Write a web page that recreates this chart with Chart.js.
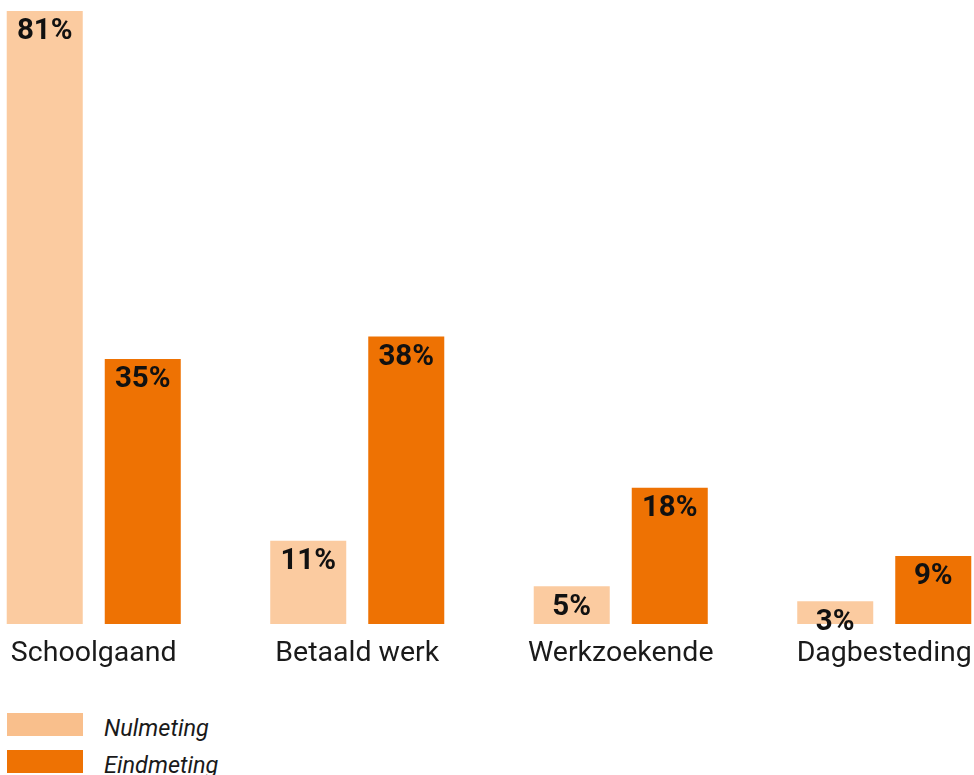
<!DOCTYPE html>
<html>
<head>
<meta charset="utf-8">
<script src="https://cdn.jsdelivr.net/npm/chart.js@4"></script>
<style>
  html, body { margin: 0; padding: 0; background: #fff; overflow: hidden; }
  body { width: 974px; height: 775px; position: relative; }
  #wrap { position: absolute; left: -37.75px; top: 0; width: 1054px; height: 680px; }
  #legend { position: absolute; left: 7px; top: 713px; font-family: Roboto, sans-serif; }
  .item { display: flex; align-items: flex-start; height: 37px; }
  .box { width: 76px; height: 23px; margin-right: 21px; }
  .item span { font-style: italic; font-size: 23.5px; line-height: 30px; color: #1a1a1a; }
</style>
</head>
<body>
<div id="wrap"><canvas id="chart"></canvas></div>
<div id="legend"></div>
<script>
const categories = ['Schoolgaand', 'Betaald werk', 'Werkzoekende', 'Dagbesteding'];
const nulmeting = [81, 11, 5, 3];
const eindmeting = [35, 38, 18, 9];
const seriesNames = ['Nulmeting', 'Eindmeting'];
const barColors = ['#FBCBA0', '#EE7203'];
const legendColors = ['#F9BF8C', '#EE7203'];

const valueLabels = {
  id: 'valueLabels',
  afterDatasetsDraw(chart) {
    const ctx = chart.ctx;
    ctx.save();
    ctx.font = 'bold 29.5px Roboto, sans-serif';
    ctx.fillStyle = '#111';
    ctx.textAlign = 'center';
    ctx.textBaseline = 'middle';
    chart.data.datasets.forEach((ds, i) => {
      chart.getDatasetMeta(i).data.forEach((bar, j) => {
        ctx.fillText(ds.data[j] + '%', bar.x, bar.y + 21);
      });
    });
    ctx.restore();
  }
};

new Chart(document.getElementById('chart'), {
  type: 'bar',
  data: {
    labels: categories,
    datasets: [
      { label: seriesNames[0], data: nulmeting, backgroundColor: barColors[0] },
      { label: seriesNames[1], data: eindmeting, backgroundColor: barColors[1] }
    ]
  },
  options: {
    responsive: true,
    maintainAspectRatio: false,
    animation: false,
    categoryPercentage: 0.744,
    barPercentage: 0.7755,
    layout: { padding: 0 },
    plugins: { legend: { display: false }, tooltip: { enabled: false } },
    scales: {
      y: { display: false, min: 0, max: 82.45 },
      x: {
        grid: { display: false },
        border: { display: false },
        ticks: { color: '#1a1a1a', font: { family: 'Roboto, sans-serif', size: 28.5 }, padding: 5 },
        afterFit(scale) { scale.height = 56; }
      }
    }
  },
  plugins: [valueLabels]
});

const legend = document.getElementById('legend');
seriesNames.forEach((name, i) => {
  const item = document.createElement('div');
  item.className = 'item';
  item.innerHTML = '<div class="box" style="background:' + legendColors[i] + '"></div><span>' + name + '</span>';
  legend.appendChild(item);
});
</script>
</body>
</html>
